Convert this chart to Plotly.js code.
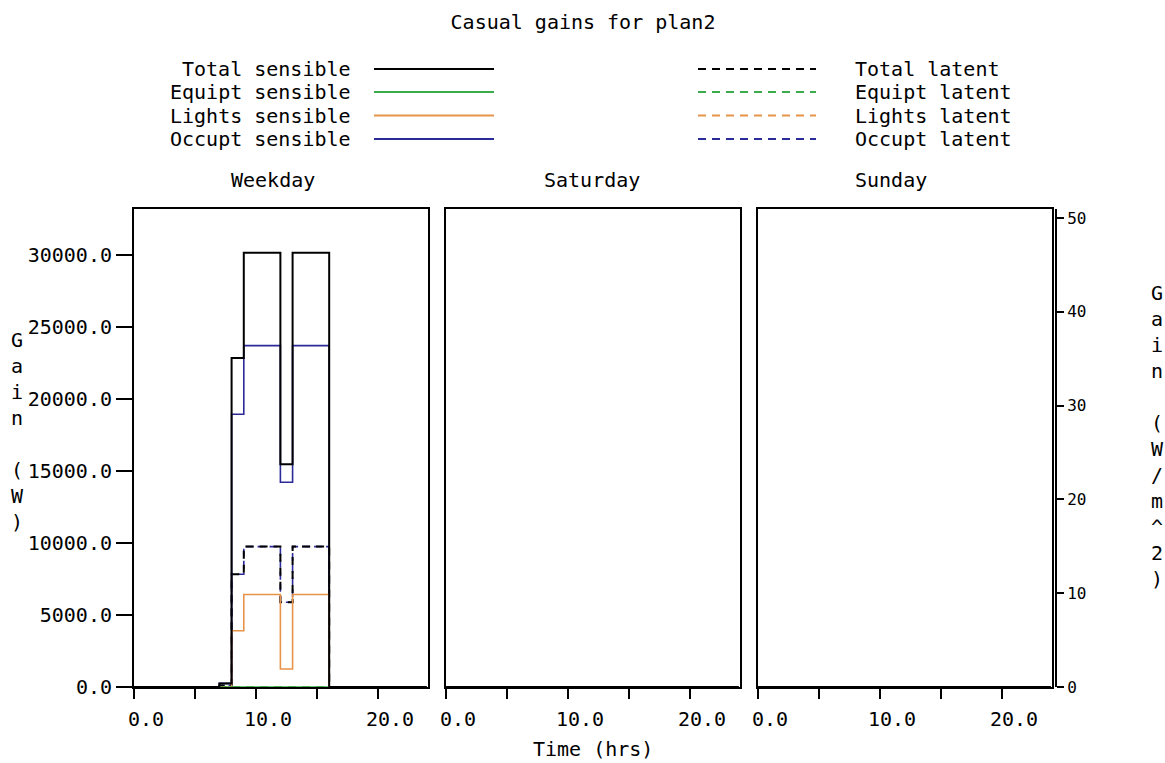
<!DOCTYPE html>
<html><head><meta charset="utf-8">
<script src="https://cdn.plot.ly/plotly-3.0.1.min.js"></script>
<style>html,body{margin:0;padding:0;background:#fff}#chart{width:1165px;height:763px}</style>
</head><body><div id="chart"></div>
<script>
// ---------- data ----------
const hours = [0,1,2,3,4,5,6,7,8,9,10,11,12,13,14,15,16,17,18,19,20,21,22,23,24];
const dayNames = ['Weekday','Saturday','Sunday'];
const seriesNames = ['Total sensible','Equipt sensible','Lights sensible','Occupt sensible',
                     'Total latent','Equipt latent','Lights latent','Occupt latent'];
const seriesColors = ['#000000','#3cab4a','#e8934a','#2a2a98','#000000','#3cab4a','#e8934a','#2a2a98'];

// hourly values (W), hour 0..23
const weekdayTotalSens  = [0,0,0,0,0,0,0,250,22850,30150,30150,30150,15470,30150,30150,30150,0,0,0,0,0,0,0,0];
const weekdayEquipSens  = [0,0,0,0,0,0,0,0,0,0,0,0,0,0,0,0,0,0,0,0,0,0,0,0];
const weekdayLightsSens = [0,0,0,0,0,0,0,0,3910,6420,6420,6420,1250,6420,6420,6420,0,0,0,0,0,0,0,0];
const weekdayOccSens    = [0,0,0,0,0,0,0,250,18940,23700,23700,23700,14220,23700,23700,23700,0,0,0,0,0,0,0,0];
const weekdayTotalLat   = [0,0,0,0,0,0,0,100,7830,9750,9750,9750,5880,9750,9750,9750,0,0,0,0,0,0,0,0];
const weekdayEquipLat   = [0,0,0,0,0,0,0,0,0,0,0,0,0,0,0,0,0,0,0,0,0,0,0,0];
const weekdayLightsLat  = [0,0,0,0,0,0,0,0,0,0,0,0,0,0,0,0,0,0,0,0,0,0,0,0];
const weekdayOccLat     = [0,0,0,0,0,0,0,100,7830,9750,9750,9750,5880,9750,9750,9750,0,0,0,0,0,0,0,0];
const zeroDay           = [0,0,0,0,0,0,0,0,0,0,0,0,0,0,0,0,0,0,0,0,0,0,0,0];

const weekdaySeries  = [weekdayTotalSens,weekdayEquipSens,weekdayLightsSens,weekdayOccSens,
                        weekdayTotalLat,weekdayEquipLat,weekdayLightsLat,weekdayOccLat];
const saturdaySeries = [zeroDay,zeroDay,zeroDay,zeroDay,zeroDay,zeroDay,zeroDay,zeroDay];
const sundaySeries   = [zeroDay,zeroDay,zeroDay,zeroDay,zeroDay,zeroDay,zeroDay,zeroDay];
const daySeries = [weekdaySeries, saturdaySeries, sundaySeries];

const yTickVals = [0,5000,10000,15000,20000,25000,30000];
const xTickVals = [0,5,10,15,20];
const xTickText = ['0.0','','10.0','','20.0'];
const y2TickVals = [0,10,20,30,40,50];

// ---------- layout helpers ----------
const FONT = 'DejaVu Sans Mono, Liberation Mono, monospace';
const FS = 20;
const L = 134, R = 1056, T = 209, B = 687, W = 1165, H = 763;
const PW = R - L, PH = B - T;
const px = x => (x - L) / PW;
const py = y => (B - y) / PH;

const xAxisNames = ['x','x2','x3'];
const yAxisNames = ['y','y3','y4'];
const dashes = ['solid','solid','solid','solid','8px,6px','8px,6px','8px,6px','8px,4px'];
// drawing order: latent series first, total sensible last (on top)
const drawOrder = [7,6,5,4,3,2,1,0];

const traces = [];
daySeries.forEach((series, d) => {
  drawOrder.forEach(s => {
    const vals = series[s];
    traces.push({
      type: 'scatter', mode: 'lines', name: seriesNames[s] + ' ' + dayNames[d],
      x: hours, y: vals.concat([vals[vals.length - 1]]),
      xaxis: xAxisNames[d], yaxis: yAxisNames[d],
      line: {shape: 'hv', color: seriesColors[s], width: s === 0 || s === 4 ? 2 : 1.6, dash: dashes[s]},
      showlegend: false, hoverinfo: 'skip'
    });
  });
});
// empty trace to establish the right-hand W/m^2 axis
traces.push({type:'scatter', mode:'lines', x:[], y:[], xaxis:'x3', yaxis:'y2', showlegend:false, hoverinfo:'skip'});

const dom = [[0, px(428)], [px(446), px(740)], [px(758), px(1052)]];
const xRange = [0, 24.1];
const yRange = [0, 33190];

function xAxis(d) {
  return {
    domain: dom[d], range: xRange, anchor: yAxisNames[d],
    showline: true, mirror: true, linecolor: '#000', linewidth: 2,
    showgrid: false, zeroline: false, layer: 'below traces',
    tickmode: 'array', tickvals: xTickVals, ticktext: xTickText,
    ticks: 'outside', ticklen: 10, tickwidth: 2, tickcolor: '#000',
    ticklabelshift: 12, ticklabelstandoff: 3,
    tickfont: {family: FONT, size: FS, color: '#000'}
  };
}
function yAxis(d) {
  const base = {
    domain: [0, 1], range: yRange, anchor: xAxisNames[d],
    showline: true, mirror: true, linecolor: '#000', linewidth: 2,
    showgrid: false, zeroline: false, layer: 'below traces'
  };
  if (d === 0) {
    Object.assign(base, {
      tickmode: 'array', tickvals: yTickVals, tickformat: '.1f',
      ticks: 'outside', ticklen: 16, tickwidth: 2, tickcolor: '#000',
      tickfont: {family: FONT, size: FS, color: '#000'}
    });
  } else {
    Object.assign(base, {showticklabels: false, ticks: ''});
  }
  return base;
}

const annotations = [];
const shapes = [];
const txt = (text, x, y, xanchor, size) => annotations.push({
  text, x, y, xref: 'paper', yref: 'paper', xanchor, yanchor: 'middle',
  showarrow: false, font: {family: FONT, size: size || FS, color: '#000'}
});

// day titles
[229, 542, 853].forEach((xp, d) => txt(dayNames[d], px(xp), py(180), 'left'));
// axis titles
txt('Time (hrs)', px(593), py(749), 'center');
txt(['G','a','i','n','\u00a0','(','W',')'].join('<br>'), px(18), py(431), 'center');
txt(['G','a','i','n','\u00a0','(','W','/','m','^','2',')'].join('<br>'), px(1157), py(436), 'center');

// legend
const rowsY = [69, 92, 115.5, 139];
for (let i = 0; i < 4; i++) {
  txt(seriesNames[i], px(353), py(rowsY[i]), 'right');
  shapes.push({type:'line', xref:'paper', yref:'paper', x0:px(374), x1:px(494), y0:py(rowsY[i]), y1:py(rowsY[i]),
               line:{color:seriesColors[i], width:2}});
  shapes.push({type:'line', xref:'paper', yref:'paper', x0:px(698), x1:px(816), y0:py(rowsY[i]), y1:py(rowsY[i]),
               line:{color:seriesColors[i+4], width:2, dash:'8px,6px'}});
  txt(seriesNames[i+4], px(853), py(rowsY[i]), 'left');
}

const layout = {
  width: W, height: H,
  margin: {l: L, r: W - R, t: T, b: H - B, pad: 0},
  paper_bgcolor: '#fff', plot_bgcolor: '#fff',
  title: {text: 'Casual gains for plan2', font: {family: FONT, size: FS, color: '#000'},
          xref: 'container', yref: 'container', x: 583 / W, xanchor: 'center', y: 1 - 22 / H, yanchor: 'middle'},
  xaxis: xAxis(0), xaxis2: xAxis(1), xaxis3: xAxis(2),
  yaxis: yAxis(0), yaxis3: yAxis(1), yaxis4: yAxis(2),
  yaxis2: {
    overlaying: 'y4', anchor: 'free', position: 1, side: 'right',
    range: [0, 50.96], showline: true, linecolor: '#000', linewidth: 2,
    showgrid: false, zeroline: false,
    tickmode: 'array', tickvals: y2TickVals,
    ticks: 'outside', ticklen: 7, tickwidth: 2, tickcolor: '#000',
    tickfont: {family: FONT, size: 16, color: '#000'}
  },
  annotations, shapes, showlegend: false
};

Plotly.newPlot('chart', traces, layout, {staticPlot: true, displayModeBar: false});
</script>
</body></html>
